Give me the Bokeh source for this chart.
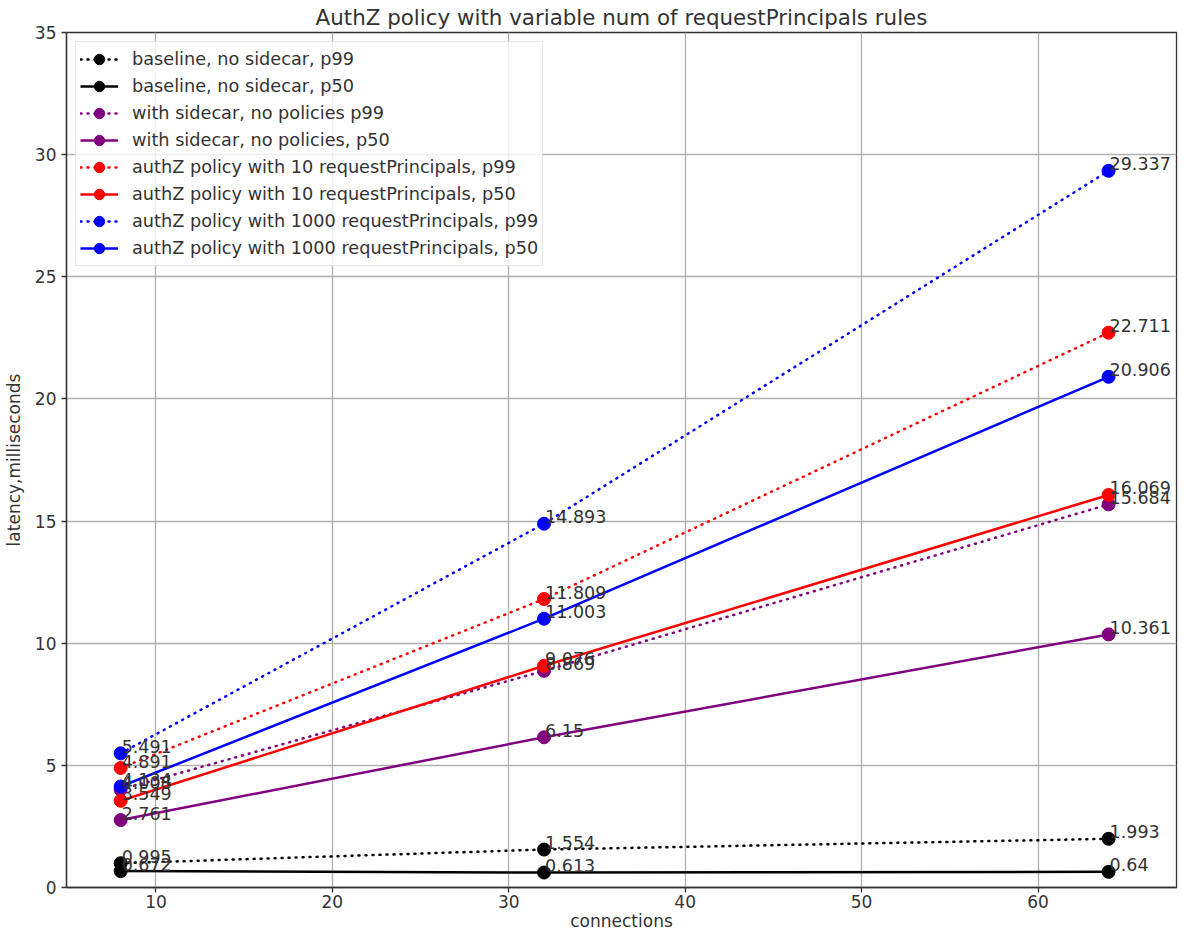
from bokeh.plotting import figure
from bokeh.embed import file_html
from bokeh.resources import INLINE
from bokeh.models import FixedTicker, Legend, LegendItem, ColumnDataSource
from bokeh.core.properties import value

connections = [8, 32, 64]
baseline_p99 = [0.995, 1.554, 1.993]
baseline_p50 = [0.672, 0.613, 0.64]
sidecar_p99 = [4.008, 8.869, 15.684]
sidecar_p50 = [2.761, 6.15, 10.361]
authz10_p99 = [4.891, 11.809, 22.711]
authz10_p50 = [3.549, 9.076, 16.069]
authz1000_p99 = [5.491, 14.893, 29.337]
authz1000_p50 = [4.134, 11.003, 20.906]

series = [
    ("baseline, no sidecar, p99", baseline_p99, "black", "dotted"),
    ("baseline, no sidecar, p50", baseline_p50, "black", "solid"),
    ("with sidecar, no policies p99", sidecar_p99, "purple", "dotted"),
    ("with sidecar, no policies, p50", sidecar_p50, "purple", "solid"),
    ("authZ policy with 10 requestPrincipals, p99", authz10_p99, "red", "dotted"),
    ("authZ policy with 10 requestPrincipals, p50", authz10_p50, "red", "solid"),
    ("authZ policy with 1000 requestPrincipals, p99", authz1000_p99, "blue", "dotted"),
    ("authZ policy with 1000 requestPrincipals, p50", authz1000_p50, "blue", "solid"),
]

FONT = "DejaVu Sans"
TXT = "#333333"
FS = "17px"

p = figure(width=1178, height=933, output_backend="svg", toolbar_location=None,
           x_range=(4.93, 67.85), y_range=(0, 35),
           title="AuthZ policy with variable num of requestPrincipals rules",
           min_border_left=62, min_border_right=2, min_border_top=31, min_border_bottom=44)

p.title.align = "center"
p.title.text_font = FONT
p.title.text_font_size = "21.4px"
p.title.text_font_style = "normal"
p.title.text_color = TXT
p.title.offset = 0
p.title.standoff = 5

p.outline_line_color = "#333333"
p.outline_line_width = 1.3
p.background_fill_color = "white"
p.border_fill_color = "white"

p.xaxis.ticker = FixedTicker(ticks=[10, 20, 30, 40, 50, 60])
p.yaxis.ticker = FixedTicker(ticks=[0, 5, 10, 15, 20, 25, 30, 35])
p.xaxis.axis_label = "connections"
p.yaxis.axis_label = "latency,milliseconds"
for ax in (p.xaxis[0], p.yaxis[0]):
    ax.axis_label_text_font = FONT
    ax.axis_label_text_font_size = FS
    ax.axis_label_text_font_style = "normal"
    ax.axis_label_text_color = TXT
    ax.major_label_text_font = FONT
    ax.major_label_text_font_size = FS
    ax.major_label_text_color = TXT
    ax.axis_line_color = "#333333"
    ax.axis_line_width = 1.3
    ax.major_tick_line_color = "#333333"
    ax.major_tick_line_width = 1.3
    ax.major_tick_out = 5
    ax.major_tick_in = 0
    ax.minor_tick_line_color = None
p.xaxis.axis_label_standoff = 0
p.yaxis.axis_label_standoff = 8
p.yaxis.major_label_standoff = 5
p.xaxis.major_label_standoff = 2

p.grid.grid_line_color = "#b0b0b0"
p.grid.grid_line_width = 1.3

items = []
for name, vals, color, style in series:
    src = ColumnDataSource(dict(x=connections, y=vals))
    if style == "dotted":
        r1 = p.line("x", "y", source=src, line_color=color, line_width=2.5,
                    line_dash="1 6", line_cap="round")
    else:
        r1 = p.line("x", "y", source=src, line_color=color, line_width=2.5)
    r2 = p.scatter("x", "y", source=src, size=13, fill_color=color, line_color=color)
    items.append(LegendItem(label=name, renderers=[r1, r2]))

for name, vals, color, style in series:
    src = ColumnDataSource(dict(x=connections, y=vals, t=[str(v) for v in vals]))
    p.text("x", "y", text="t", source=src, text_font=value(FONT), text_font_size="17.5px",
           text_color=TXT, text_align="left", text_baseline="middle",
           x_offset=1, y_offset=-7, level="overlay")

legend = Legend(items=items, location="top_left")
legend.label_text_font = FONT
legend.label_text_font_size = "17.7px"
legend.label_text_color = TXT
legend.glyph_width = 38
legend.glyph_height = 26
legend.label_height = 26
legend.label_standoff = 14
legend.spacing = 1
legend.padding = 4
legend.margin = 9
legend.border_line_color = "#d0d0d0"
legend.border_line_width = 1.3
legend.background_fill_alpha = 0.8
p.add_layout(legend)

open("out.html", "w").write(file_html(p, INLINE))
